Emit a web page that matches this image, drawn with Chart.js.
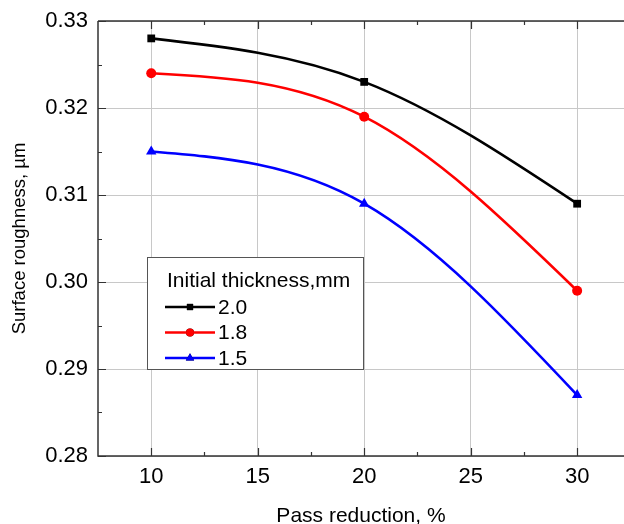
<!DOCTYPE html>
<html>
<head>
<meta charset="utf-8">
<script src="https://cdn.jsdelivr.net/npm/chart.js@4"></script>
<style>
  html, body { margin: 0; padding: 0; background: #fff; overflow: hidden; }
  #chart { display: block; }
</style>
</head>
<body>
<canvas id="chart" width="624" height="524"></canvas>
<script>
// Dados
const passReduction = [10, 20, 30];
const thick20 = [0.328, 0.323, 0.309];
const thick18 = [0.324, 0.319, 0.299];
const thick15 = [0.315, 0.309, 0.287];
const seriesLabels = ['2.0', '1.8', '1.5'];
const xTicks = [10, 15, 20, 25, 30];
const yTicks = [0.28, 0.29, 0.30, 0.31, 0.32, 0.33];
const legendTitle = 'Initial thickness,mm';

const FONT = '"Liberation Sans", Arial, sans-serif';

function toPoints(values) {
    return passReduction.map((x, i) => ({ x: x, y: values[i] }));
}

function makeDataset(label, values, color, shape, radius) {
    return {
        label: label,
        data: toPoints(values),
        borderColor: color,
        backgroundColor: color,
        borderWidth: 2.6,
        pointStyle: shape,
        pointRadius: radius,
        pointBorderWidth: 0,
        tension: 0.4
    };
}

// Inclinações de uma spline cúbica natural (em pixels)
function naturalSlopes(xs, ys) {
    const n = xs.length;
    const h = [];
    for (let i = 0; i < n - 1; i++) h[i] = xs[i + 1] - xs[i];
    const M = new Array(n).fill(0);
    if (n > 2) {
        const a = [], b = [], c = [], d = [];
        for (let i = 1; i < n - 1; i++) {
            a.push(h[i - 1]);
            b.push(2 * (h[i - 1] + h[i]));
            c.push(h[i]);
            d.push(6 * ((ys[i + 1] - ys[i]) / h[i] - (ys[i] - ys[i - 1]) / h[i - 1]));
        }
        const m = b.length;
        for (let i = 1; i < m; i++) {
            const w = a[i] / b[i - 1];
            b[i] -= w * c[i - 1];
            d[i] -= w * d[i - 1];
        }
        const sol = new Array(m);
        sol[m - 1] = d[m - 1] / b[m - 1];
        for (let i = m - 2; i >= 0; i--) sol[i] = (d[i] - c[i] * sol[i + 1]) / b[i];
        for (let i = 1; i < n - 1; i++) M[i] = sol[i - 1];
    }
    const s = [];
    for (let i = 0; i < n; i++) {
        if (i < n - 1) s[i] = (ys[i + 1] - ys[i]) / h[i] - h[i] * (2 * M[i] + M[i + 1]) / 6;
        else s[i] = (ys[i] - ys[i - 1]) / h[i - 1] + h[i - 1] * (M[i - 1] + 2 * M[i]) / 6;
    }
    return s;
}

// Substitui os pontos de controle do Chart.js pela spline natural
const splinePlugin = {
    id: 'naturalSpline',
    beforeDatasetDraw(chart, args) {
        const meta = args.meta;
        const line = meta.dataset;
        const pts = meta.data;
        if (!line || pts.length < 2) return;
        if (line.updateControlPoints) line.updateControlPoints(chart.chartArea, 'x');
        const xs = pts.map(p => p.x);
        const ys = pts.map(p => p.y);
        const s = naturalSlopes(xs, ys);
        for (let i = 0; i < pts.length; i++) {
            const hPrev = i > 0 ? (xs[i] - xs[i - 1]) / 3 : 0;
            const hNext = i < pts.length - 1 ? (xs[i + 1] - xs[i]) / 3 : 0;
            pts[i].cp1x = xs[i] - hPrev;
            pts[i].cp1y = ys[i] - s[i] * hPrev;
            pts[i].cp2x = xs[i] + hNext;
            pts[i].cp2y = ys[i] + s[i] * hNext;
        }
        line._path = undefined;
    }
};

// Ticks internos, moldura e legenda desenhados num plugin
const framePlugin = {
    id: 'frame',
    afterDatasetsDraw(chart) {
        const ctx = chart.ctx;
        const area = chart.chartArea;
        const xs = chart.scales.x;
        const ys = chart.scales.y;
        ctx.save();
        ctx.strokeStyle = '#333';
        ctx.lineWidth = 1.5;
        // eixos
        ctx.beginPath();
        ctx.moveTo(area.left, area.top);
        ctx.lineTo(chart.width, area.top);
        ctx.moveTo(area.left, area.top);
        ctx.lineTo(area.left, area.bottom);
        ctx.lineTo(chart.width, area.bottom);
        ctx.stroke();
        // ticks
        ctx.lineWidth = 1.2;
        ctx.beginPath();
        xTicks.forEach(v => {
            const px = Math.round(xs.getPixelForValue(v)) + 0.5;
            ctx.moveTo(px, area.bottom);
            ctx.lineTo(px, area.bottom - 8);
            ctx.moveTo(px, area.top);
            ctx.lineTo(px, area.top + 8);
        });
        for (let i = 0; i < xTicks.length - 1; i++) {
            const px = Math.round(xs.getPixelForValue((xTicks[i] + xTicks[i + 1]) / 2)) + 0.5;
            ctx.moveTo(px, area.bottom);
            ctx.lineTo(px, area.bottom - 4);
            ctx.moveTo(px, area.top);
            ctx.lineTo(px, area.top + 4);
        }
        yTicks.forEach(v => {
            const py = Math.round(ys.getPixelForValue(v)) + 0.5;
            ctx.moveTo(area.left, py);
            ctx.lineTo(area.left + 8, py);
        });
        for (let i = 0; i < yTicks.length - 1; i++) {
            const py = Math.round(ys.getPixelForValue((yTicks[i] + yTicks[i + 1]) / 2)) + 0.5;
            ctx.moveTo(area.left, py);
            ctx.lineTo(area.left + 4, py);
        }
        ctx.stroke();

        // legenda
        const box = { left: 147.5, top: 257.5, width: 216, height: 112 };
        ctx.fillStyle = '#fff';
        ctx.fillRect(box.left, box.top, box.width, box.height);
        ctx.strokeStyle = '#555';
        ctx.lineWidth = 1;
        ctx.strokeRect(box.left, box.top, box.width, box.height);
        ctx.fillStyle = '#000';
        ctx.font = '21px ' + FONT;
        ctx.textBaseline = 'middle';
        ctx.textAlign = 'left';
        ctx.fillText(legendTitle, 167, 281);
        chart.data.datasets.forEach((ds, i) => {
            const y = 307 + i * 25.5;
            ctx.strokeStyle = ds.borderColor;
            ctx.lineWidth = 2.6;
            ctx.beginPath();
            ctx.moveTo(165, y);
            ctx.lineTo(215, y);
            ctx.stroke();
            Chart.helpers.drawPoint(ctx, {
                pointStyle: ds.pointStyle,
                radius: ds.pointRadius * 0.8,
                borderWidth: 0,
                rotation: 0
            }, 190, y);
            ctx.fillStyle = ds.backgroundColor;
            ctx.fill();
            ctx.fillStyle = '#000';
            ctx.font = '21px ' + FONT;
            ctx.fillText(ds.label, 218, y + 1);
        });
        ctx.restore();
    }
};

const ctx = document.getElementById('chart').getContext('2d');
const chart = new Chart(ctx, {
    type: 'line',
    data: {
        datasets: [
            makeDataset(seriesLabels[0], thick20, '#000000', 'rect', 5.5),
            makeDataset(seriesLabels[1], thick18, '#ff0000', 'circle', 5),
            makeDataset(seriesLabels[2], thick15, '#0000ff', 'triangle', 6)
        ]
    },
    options: {
        responsive: false,
        animation: false,
        layout: { autoPadding: false, padding: { top: 21, right: 0, left: 0, bottom: 0 } },
        scales: {
            x: {
                type: 'linear',
                min: 7.5,
                max: 32.2,
                afterBuildTicks: s => { s.ticks = xTicks.map(v => ({ value: v })); },
                afterFit: s => { s.height = 68; s.paddingLeft = 0; s.paddingRight = 0; },
                grid: { color: '#c8c8c8', lineWidth: 1, drawTicks: false },
                border: { display: false },
                ticks: {
                    padding: 8,
                    color: '#000',
                    font: { family: FONT, size: 22 }
                },
                title: {
                    display: true,
                    text: 'Pass reduction, %',
                    color: '#000',
                    font: { family: FONT, size: 21 },
                    padding: { top: 0, bottom: -5 }
                }
            },
            y: {
                min: 0.28,
                max: 0.33,
                afterBuildTicks: s => { s.ticks = yTicks.map(v => ({ value: v })); },
                afterFit: s => { s.width = 98; s.paddingTop = 0; s.paddingBottom = 0; },
                grid: { color: '#c8c8c8', lineWidth: 1, drawTicks: false },
                border: { display: false },
                ticks: {
                    padding: 10,
                    color: '#000',
                    font: { family: FONT, size: 22 },
                    callback: v => v.toFixed(2)
                },
                title: {
                    display: true,
                    text: 'Surface roughness, µm',
                    color: '#000',
                    font: { family: FONT, size: 18.5 },
                    padding: { top: 9, bottom: 0 }
                }
            }
        },
        plugins: {
            legend: { display: false },
            tooltip: { enabled: false }
        }
    },
    plugins: [splinePlugin, framePlugin]
});
</script>
</body>
</html>
